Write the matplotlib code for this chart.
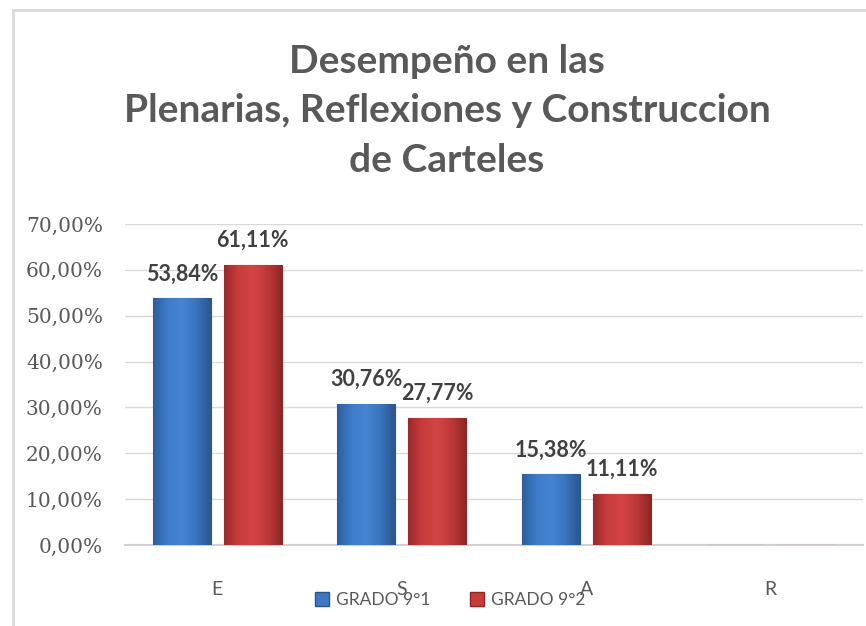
import matplotlib
matplotlib.use("Agg")
import matplotlib.pyplot as plt
import numpy as np
from matplotlib.colors import LinearSegmentedColormap
from matplotlib.patches import Rectangle
from matplotlib.lines import Line2D

categories = ["E", "S", "A", "R"]
series_names = ["GRADO 9°1", "GRADO 9°2"]
grado_9_1 = [0.5384, 0.3076, 0.1538, 0.0]
grado_9_2 = [0.6111, 0.2777, 0.1111, 0.0]
yticks = [0.0, 0.1, 0.2, 0.3, 0.4, 0.5, 0.6, 0.7]
title = "Desempeño en las\nPlenarias, Reflexiones y Construccion\nde Carteles"

W, H = 866, 626
fig = plt.figure(figsize=(W / 100, H / 100), dpi=100)
fig.patch.set_facecolor("white")

# chart-area frame (left and top edges visible)
fig.add_artist(Line2D([12.5 / W, 12.5 / W], [0, 1 - 10 / H], transform=fig.transFigure,
                      color="#d9d9d9", lw=2))
fig.add_artist(Line2D([12.5 / W, 1], [1 - 10 / H, 1 - 10 / H], transform=fig.transFigure,
                      color="#d9d9d9", lw=2))

ax = fig.add_axes([125 / W, 1 - 545 / H, (863 - 125) / W, (545 - 224) / H])
x = np.arange(len(categories))
bw = 0.314
off = 0.192

cmap_blue = LinearSegmentedColormap.from_list("b", ["#2d5e9c", "#3e7cc9", "#4685d2", "#3a74bd", "#2a578f"])
cmap_red = LinearSegmentedColormap.from_list("r", ["#9a2a2a", "#c83c3c", "#d44444", "#be3838", "#8e2626"])

b1 = ax.bar(x - off, grado_9_1, bw, color="#3c78c4", edgecolor="#2a5690", lw=0.8, zorder=3)
b2 = ax.bar(x + off, grado_9_2, bw, color="#c83c3c", edgecolor="#8e2828", lw=0.8, zorder=3)

grad = np.linspace(0, 1, 256).reshape(1, -1)
for bars, cm in ((b1, cmap_blue), (b2, cmap_red)):
    for r in bars:
        h = r.get_height()
        if h <= 0:
            continue
        x0 = r.get_x()
        im = ax.imshow(grad, cmap=cm, aspect="auto", extent=[x0, x0 + r.get_width(), 0, h],
                       zorder=3.5, interpolation="bicubic")
        im.set_clip_path(r)

def fmt(v):
    return f"{v * 100:.2f}".replace(".", ",") + "%"

for vals, xs in ((grado_9_1, x - off), (grado_9_2, x + off)):
    for xi, v in zip(xs, vals):
        if v <= 0:
            continue
        ax.annotate(fmt(v), (xi, v), xytext=(0, 10), textcoords="offset points",
                    ha="center", va="bottom", fontsize=15.5, fontweight="bold",
                    color="#404040", family="Lato", zorder=5)

ax.set_xlim(-0.5, len(categories) - 0.5)
ax.set_ylim(0, 0.7)
ax.set_yticks(yticks)
ax.set_yticklabels([fmt(t) for t in yticks], family="DejaVu Serif", fontsize=14.5, color="#595959")
ax.set_xticks(x)
ax.set_xticklabels(categories, family="Lato", fontsize=14, color="#595959")
ax.tick_params(axis="both", length=0)
ax.tick_params(axis="y", pad=16)
ax.tick_params(axis="x", pad=26)
ax.grid(axis="y", color="#d9d9d9", lw=1, zorder=0)
for s in ("top", "right", "left"):
    ax.spines[s].set_visible(False)
ax.spines["bottom"].set_color("#d0d0d0")
ax.spines["bottom"].set_linewidth(1.5)

fig.text(447 / W, 1 - 111 / H, title, ha="center", va="center", fontsize=28,
         fontweight="bold", color="#595959", family="Lato", linespacing=1.5)

handles = [Rectangle((0, 0), 1, 1, facecolor="#3c78c4", edgecolor="#2a5690"),
           Rectangle((0, 0), 1, 1, facecolor="#c83c3c", edgecolor="#8e2828")]
fig.legend(handles, series_names, loc="center", bbox_to_anchor=(450 / W, 1 - 600 / H),
           ncol=2, frameon=False, prop={"family": "Lato", "size": 12.5},
           labelcolor="#595959", handlelength=0.8, handleheight=0.8, handletextpad=0.4,
           columnspacing=2.3)

fig.savefig("out.png", dpi=100, facecolor="white")
